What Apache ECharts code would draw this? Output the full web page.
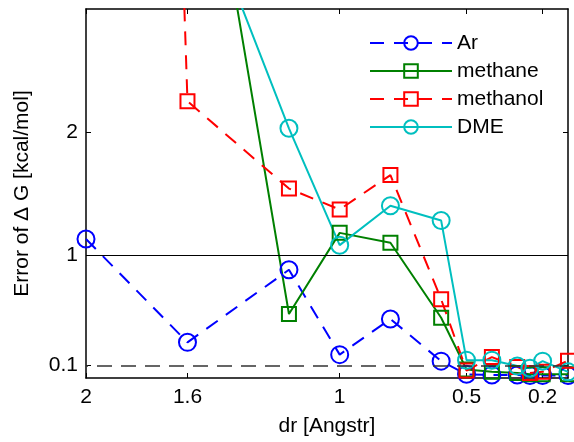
<!DOCTYPE html>
<html>
<head>
<meta charset="utf-8">
<script src="https://cdn.jsdelivr.net/npm/echarts@6/dist/echarts.min.js"></script>
<style>
html,body{margin:0;padding:0;background:#fff;}
#c{width:574px;height:442px;}
</style>
</head>
<body>
<div id="c"></div>
<script>
// x positions (dr, Angstrom)
const drAr = [2, 1.6, 1.2, 1.0, 0.8, 0.6, 0.5, 0.4, 0.3, 0.25, 0.2, 0.1];
const arErr = [1.13, 0.29, 0.88, 0.19, 0.48, 0.137, 0.03, 0.025, 0.025, 0.02, 0.02, 0.02];
const drMethanol = [2, 1.6, 1.2, 1.0, 0.8, 0.6, 0.5, 0.4, 0.3, 0.25, 0.2, 0.1];
const methanolErr = [27, 2.25, 1.54, 1.37, 1.65, 0.64, 0.06, 0.17, 0.09, 0.04, 0.05, 0.14];
const drMethane = [1.6, 1.2, 1.0, 0.8, 0.6, 0.5, 0.4, 0.3, 0.25, 0.2, 0.1];
const methaneErr = [5.4, 0.52, 1.18, 1.10, 0.49, 0.07, 0.05, 0.04, 0.03, 0.03, 0.03];
const drDME = [1.6, 1.2, 1.0, 0.8, 0.6, 0.5, 0.4, 0.3, 0.25, 0.2, 0.1];
const dmeErr = [4.15, 2.03, 1.08, 1.40, 1.28, 0.145, 0.145, 0.097, 0.08, 0.137, 0.05];
const xTicks = [2, 1.6, 1, 0.5, 0.2];
const yTicks = [0.1, 1, 2];
const refSolid = 1;
const refDashed = 0.1;

const FONT = 'Liberation Sans, Arial, Helvetica, sans-serif';
const pairs = (xs, ys) => xs.map((x, i) => [x, ys[i]]);

const baseX = {
  type: 'value', min: 0.1, max: 2, inverse: true,
  axisLine: {show: true, onZero: false, lineStyle: {color: '#000', width: 1.5}},
  splitLine: {show: false},
  axisTick: {show: true, inside: true, length: 5, customValues: xTicks, lineStyle: {color: '#000', width: 1}},
};
const baseY = {
  type: 'value', min: 0, max: 3,
  axisLine: {show: true, onZero: false, lineStyle: {color: '#000', width: 1.5}},
  splitLine: {show: false},
  axisTick: {show: true, inside: true, length: 5, customValues: yTicks, lineStyle: {color: '#000', width: 1}},
};

function mkSeries(name, xs, ys, color, symbol, size, dashed) {
  return {
    name: name, type: 'line', xAxisIndex: 0, yAxisIndex: 0,
    data: pairs(xs, ys),
    symbol: symbol, symbolSize: size, showAllSymbol: true,
    clip: true,
    lineStyle: {color: color, width: 2, type: dashed ? [14, 10] : 'solid'},
    itemStyle: {color: 'rgba(255,255,255,0)', borderColor: color, borderWidth: 2},
    emphasis: {disabled: true},
    animation: false
  };
}

const series = [
  mkSeries('Ar', drAr, arErr, '#0000ff', 'circle', 17, true),
  mkSeries('methane', drMethane, methaneErr, '#008000', 'rect', 14, false),
  mkSeries('methanol', drMethanol, methanolErr, '#ff0000', 'rect', 14, true),
  mkSeries('DME', drDME, dmeErr, '#00bfbf', 'circle', 17, false)
];
series[0].markLine = {
  silent: true, symbol: 'none', label: {show: false}, animation: false,
  data: [
    {yAxis: refSolid, lineStyle: {color: '#000', width: 1, type: 'solid'}},
    {yAxis: refDashed, lineStyle: {color: '#333', width: 1.5, type: [15, 9]}}
  ]
};

const chart = echarts.init(document.getElementById('c'), null, {renderer: 'canvas'});
chart.setOption({
  animation: false,
  backgroundColor: '#fff',
  textStyle: {fontFamily: FONT},
  grid: {left: 86, right: 6, top: 9, bottom: 61, containLabel: false},
  legend: {
    left: 364, top: 27, orient: 'vertical',
    itemWidth: 82, itemHeight: 17, itemGap: 6,
    textStyle: {fontSize: 21, color: '#000', fontFamily: FONT, lineHeight: 22},
    data: ['Ar', 'methane', 'methanol', 'DME']
  },
  xAxis: [
    Object.assign({}, baseX, {
      position: 'bottom',
      name: 'dr [Angstr]', nameLocation: 'middle', nameGap: 38,
      nameTextStyle: {fontSize: 21, color: '#000', fontFamily: FONT},
      axisLabel: {show: true, customValues: xTicks, fontSize: 21, color: '#000', margin: 9, fontFamily: FONT,
        formatter: v => String(v)}
    }),
    Object.assign({}, baseX, {position: 'top', axisLabel: {show: false}})
  ],
  yAxis: [
    Object.assign({}, baseY, {
      position: 'left',
      name: 'Error of \u0394 G [kcal/mol]', nameLocation: 'middle', nameGap: 53,
      nameTextStyle: {fontSize: 21, color: '#000', fontFamily: FONT},
      axisLabel: {show: true, customValues: yTicks, fontSize: 21, color: '#000', margin: 8, fontFamily: FONT,
        formatter: v => String(v)}
    }),
    Object.assign({}, baseY, {position: 'right', axisLabel: {show: false}})
  ],
  series: series
});
</script>
</body>
</html>
